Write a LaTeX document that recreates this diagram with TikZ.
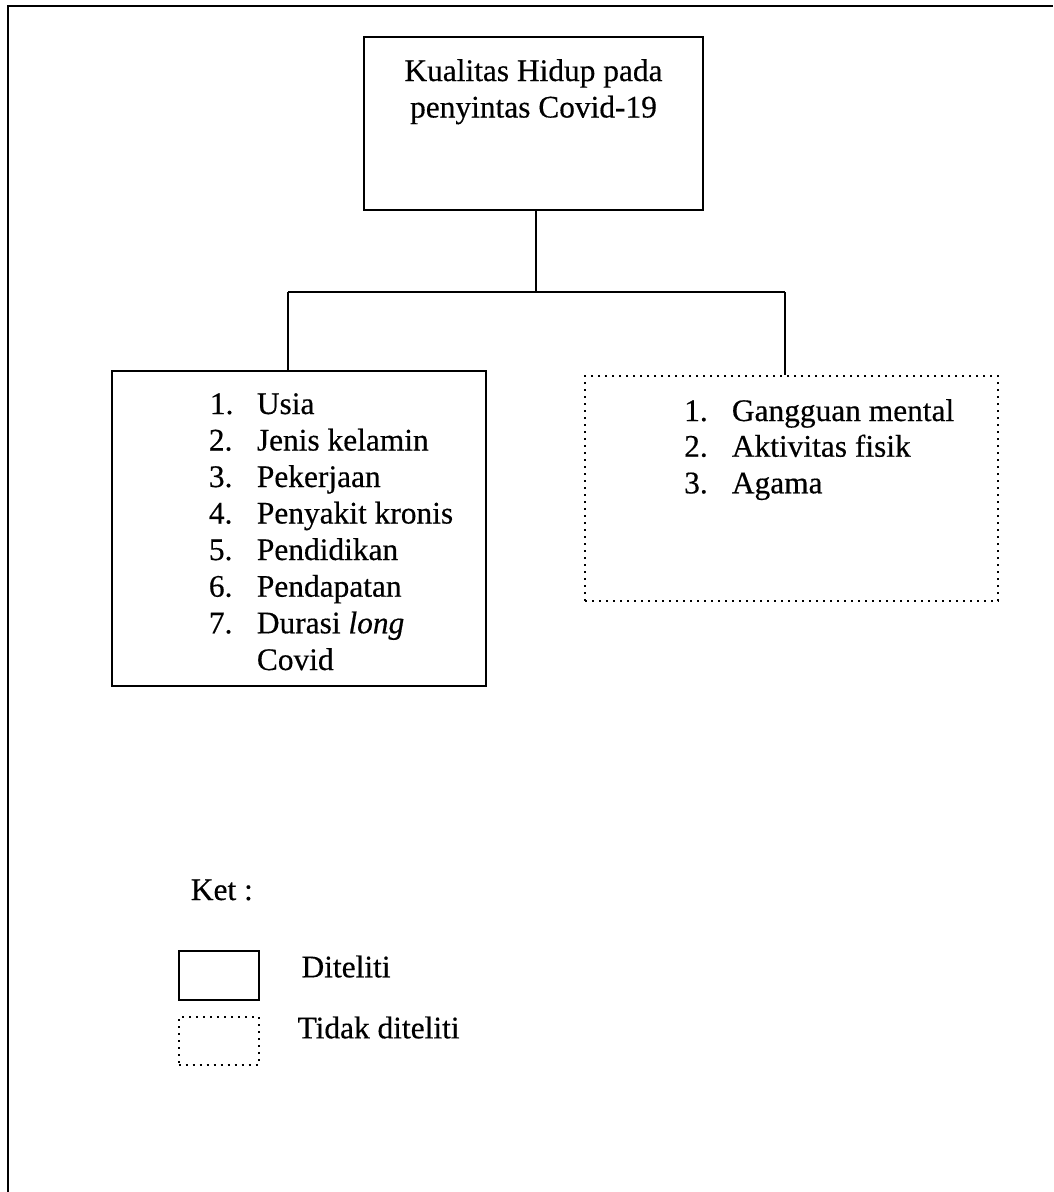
\documentclass[tikz,border=0pt]{standalone}
\usepackage{fontspec}
\setmainfont{Liberation Serif}[FakeBold=0.4]
\begin{document}
\begin{tikzpicture}[x=1pt,y=-1pt,
  line width=1.8pt,
  solidbox/.style={draw=black, line width=1.8pt, rectangle, inner sep=0pt},
  dotbox/.style={draw=black, line width=1.8pt, dash pattern=on 1.8pt off 5.2pt, rectangle, inner sep=0pt},
  txt/.style={anchor=base west, inner sep=0pt, font=\fontsize{31.4}{36}\selectfont},
  ctxt/.style={anchor=base, inner sep=0pt, font=\fontsize{31.4}{36}\selectfont},
  conn/.style={draw=black, line width=2pt}]
\useasboundingbox (0,0) rectangle (1053,1192);
% outer frame (only top and left edges visible)
\coordinate (fa) at (8,1192);
\coordinate (fb) at (8,6);
\coordinate (fc) at (1053,6);
\draw[line width=2.2pt] (fa) -- (fb) -- (fc);
% boxes
\node[solidbox, minimum width=339pt, minimum height=173pt] (top) at (533.5,123.5) {};
\node[solidbox, minimum width=374pt, minimum height=315pt] (left) at (299,528.5) {};
\node[dotbox, minimum width=413pt, minimum height=225pt] (right) at (791.5,488.5) {};
% top text
\node[ctxt] (t1) at (533.5,81) {Kualitas Hidup pada};
\node[ctxt] (t2) at (533.5,117.5) {penyintas Covid-19};
% connectors
\coordinate (j) at (536,292);
\coordinate (jl) at (288,292);
\coordinate (jr) at (785,292);
\draw[conn] (top.south -| j) -- (j);
\draw[conn] (jl) -- (jr);
\draw[conn] (jl) -- (jl |- left.north);
\draw[conn] (jr) -- (jr |- right.north);
% left list
\node[txt] (n1) at (209,414) {1.};
\node[txt] (l1) at (256,414) {Usia};
\node[txt] (n2) at (208,450.5) {2.};
\node[txt] (l2) at (256,450.5) {Jenis kelamin};
\node[txt] (n3) at (208,487) {3.};
\node[txt] (l3) at (256,487) {Pekerjaan};
\node[txt] (n4) at (208,523.5) {4.};
\node[txt] (l4) at (256,523.5) {Penyakit kronis};
\node[txt] (n5) at (208,560) {5.};
\node[txt] (l5) at (256,560) {Pendidikan};
\node[txt] (n6) at (208,596.7) {6.};
\node[txt] (l6) at (256,596.7) {Pendapatan};
\node[txt] (n7) at (208,633.3) {7.};
\node[txt] (l7) at (256,633.3) {Durasi \textit{long}};
\node[txt] (l8) at (256,670) {Covid};
% right list
\node[txt] (m1) at (683.3,421) {1.};
\node[txt] (r1) at (731,421) {Gangguan mental};
\node[txt] (m2) at (683.3,456.7) {2.};
\node[txt] (r2) at (731,456.7) {Aktivitas fisik};
\node[txt] (m3) at (683.3,493.3) {3.};
\node[txt] (r3) at (731,493.3) {Agama};
% legend
\node[txt] (ket) at (190,900) {Ket :};
\node[solidbox, minimum width=80pt, minimum height=49pt] (lg1) at (218.8,975.5) {};
\node[txt] (lg1t) at (300.7,977.3) {Diteliti};
\node[dotbox, minimum width=80pt, minimum height=48pt] (lg2) at (218.7,1041.2) {};
\node[txt] (lg2t) at (296.7,1038.3) {Tidak diteliti};
\end{tikzpicture}
\end{document}
